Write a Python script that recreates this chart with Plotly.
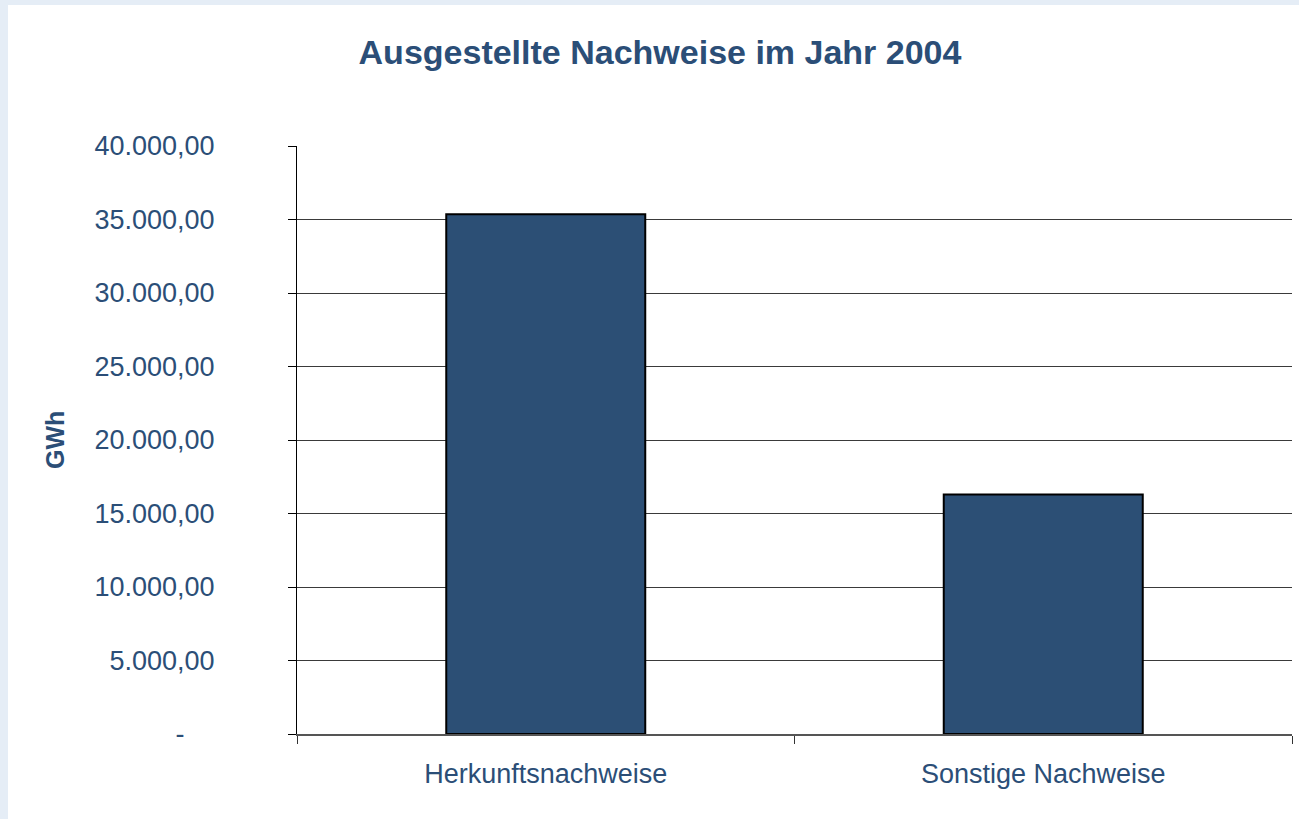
import plotly.graph_objects as go

categories = ["Herkunftsnachweise", "Sonstige Nachweise"]
values_gwh = [35350, 16300]
y_tick_values = [0, 5000, 10000, 15000, 20000, 25000, 30000, 35000, 40000]
grid_values = [5000, 10000, 15000, 20000, 25000, 30000, 35000]


def de_fmt(v):
    if v == 0:
        return "-\u00a0\u00a0\u00a0\u00a0"
    s = f"{v:,.2f}"
    return s.replace(",", "X").replace(".", ",").replace("X", ".")


y_tick_text = [de_fmt(v) for v in y_tick_values]

TEXT = "#2b4e77"
BAR = "#2c4f75"
FRAME = "#e5edf6"
FONT = "Liberation Sans, Arial, sans-serif"

W, H = 1299, 819
ML, MR, MT, MB = 297, 7, 146, 85
PW, PH = W - ML - MR, H - MT - MB


def px_x(p):
    return (p - ML) / PW


def px_y(p):
    return (H - MB - p) / PH


fig = go.Figure()
fig.add_trace(go.Bar(
    x=categories, y=values_gwh,
    marker=dict(color=BAR, line=dict(color="#000000", width=2)),
    hoverinfo="skip", showlegend=False,
))
# invisible trace to anchor the grid axis
fig.add_trace(go.Scatter(
    x=categories, y=[0, 0], yaxis="y2", mode="markers",
    marker=dict(opacity=0), hoverinfo="skip", showlegend=False,
))

fig.update_layout(
    width=W, height=H,
    margin=dict(l=ML, r=MR, t=MT, b=MB, pad=0),
    paper_bgcolor="white",
    plot_bgcolor="rgba(0,0,0,0)",
    bargap=0.6,
    font=dict(family=FONT, color=TEXT, size=27),
    title=dict(
        text="<b>Ausgestellte Nachweise im Jahr 2004</b>",
        x=660 / W, xref="container", xanchor="center",
        y=1 - 52 / H, yref="container", yanchor="middle",
        font=dict(family=FONT, size=34, color=TEXT),
    ),
    xaxis=dict(
        type="category",
        showgrid=False,
        showline=True, linecolor="#555555", linewidth=1.5,
        ticks="outside", tickson="boundaries", ticklen=8,
        tickcolor="#333333", tickwidth=1,
        tickfont=dict(size=27, color=TEXT),
        ticklabelstandoff=15,
        zeroline=False,
    ),
    yaxis=dict(
        range=[0, 40000],
        tickvals=y_tick_values, ticktext=y_tick_text,
        showgrid=False, zeroline=False,
        showline=True, linecolor="#000000", linewidth=1,
        ticks="outside", ticklen=8, tickcolor="#000000", tickwidth=1,
        tickfont=dict(size=27, color=TEXT),
        ticklabelstandoff=68,
    ),
    yaxis2=dict(
        overlaying="y", range=[0, 40000],
        tickvals=grid_values, showticklabels=False,
        showgrid=True, gridcolor="#3a3a3a", gridwidth=1,
        zeroline=False, showline=False, ticks="",
    ),
    annotations=[dict(
        text="<b>GWh</b>", textangle=-90,
        x=px_x(55), y=0.5, xref="paper", yref="paper",
        xanchor="center", yanchor="middle", showarrow=False,
        font=dict(family=FONT, size=25, color=TEXT),
    )],
    shapes=[
        dict(type="rect", xref="paper", yref="paper", layer="below",
             x0=px_x(0), x1=px_x(W), y0=px_y(0), y1=px_y(5),
             fillcolor=FRAME, line=dict(width=0)),
        dict(type="rect", xref="paper", yref="paper", layer="below",
             x0=px_x(0), x1=px_x(8), y0=px_y(0), y1=px_y(H),
             fillcolor=FRAME, line=dict(width=0)),
    ],
)

fig.write_html(
    "out.html",
    config={"displayModeBar": False},
    post_script="document.body.style.margin='0';document.body.style.padding='0';",
)
